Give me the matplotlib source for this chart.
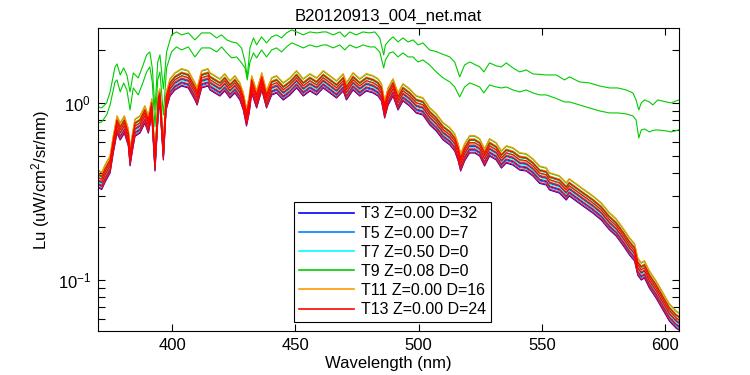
import numpy as np
import matplotlib
matplotlib.use("Agg")
import matplotlib.pyplot as plt
from matplotlib.ticker import LogLocator, NullFormatter, FixedLocator

plt.rcParams['font.family'] = ['Liberation Sans', 'DejaVu Sans']
plt.rcParams['mathtext.fontset'] = 'custom'
plt.rcParams['mathtext.rm'] = 'Liberation Sans'
plt.rcParams['mathtext.default'] = 'regular'

# lower bundle (median cast)
wl_base = [370.0, 371.5, 373.0, 374.9, 376.2, 377.7, 379.0, 380.7, 382.3, 383.0,
           384.0, 385.0, 387.0, 389.0, 390.4, 391.8, 393.1, 394.5, 395.1, 396.5,
           397.6, 399.2, 401.2, 403.9, 406.6, 409.3, 410.2, 412.0, 414.6, 415.4,
           419.4, 421.4, 423.5, 425.5, 427.5, 428.9, 430.2, 431.3, 432.3, 434.3,
           436.4, 438.3, 440.4, 442.4, 445.1, 447.8, 450.5, 453.2, 455.9, 458.6,
           461.3, 464.0, 466.7, 469.4, 470.7, 473.4, 476.1, 478.8, 481.5, 483.5,
           484.9, 486.2, 487.6, 489.6, 491.6, 493.6, 496.3, 499.0, 501.7, 504.5,
           507.1, 509.9, 512.6, 514.6, 516.0, 517.0, 518.6, 520.6, 522.7, 524.7,
           526.7, 528.7, 531.4, 533.5, 535.5, 538.2, 540.9, 543.6, 546.3, 549.0,
           551.7, 553.0, 557.0, 559.8, 561.0, 563.8, 566.5, 570.6, 574.0, 577.3,
           580.0, 582.7, 585.4, 587.5, 588.8, 590.2, 591.5, 593.5, 596.2, 599.0,
           601.6, 604.3, 605.5]
lu_base = [0.37, 0.36, 0.40, 0.446, 0.58, 0.75, 0.686, 0.75, 0.634, 0.49,
           0.60, 0.72, 0.75, 0.855, 0.75, 0.937, 0.458, 1.013, 1.067, 0.529,
           1.013, 1.215, 1.314, 1.384, 1.349, 1.154, 1.081, 1.349, 1.384, 1.314,
           1.215, 1.297, 1.184, 1.264, 1.154, 1.013, 0.823, 0.974, 1.264, 1.040,
           1.314, 1.040, 1.231, 1.264, 1.154, 1.231, 1.349, 1.215, 1.297, 1.231,
           1.349, 1.264, 1.184, 1.297, 1.154, 1.314, 1.215, 1.297, 1.264, 1.215,
           1.139, 0.913, 1.081, 1.215, 1.013, 1.139, 1.067, 0.974, 0.949, 0.834,
           0.771, 0.686, 0.643, 0.594, 0.522, 0.458, 0.522, 0.579, 0.579, 0.557,
           0.489, 0.557, 0.529, 0.476, 0.508, 0.495, 0.464, 0.458, 0.429, 0.39,
           0.382, 0.358, 0.344, 0.314, 0.331, 0.310, 0.291, 0.265, 0.242, 0.213,
           0.197, 0.175, 0.154, 0.142, 0.118, 0.111, 0.114, 0.100, 0.0878, 0.0751,
           0.0651, 0.0594, 0.0579]

# the two high green (T9) casts
wl_g = [370.0, 371.5, 373.5, 374.9, 376.9, 377.7, 379.0, 380.4, 381.7, 383.0,
        384.3, 386.3, 388.3, 389.7, 391.0, 392.0, 393.1, 394.2, 395.1, 396.5,
        397.8, 399.8, 401.8, 403.9, 406.6, 409.3, 412.0, 415.4, 418.1, 420.1,
        422.2, 424.2, 426.2, 428.2, 429.6, 430.5, 431.6, 433.0, 434.3, 436.3,
        438.3, 440.4, 442.4, 444.4, 446.4, 448.5, 450.5, 453.2, 455.9, 458.6,
        461.3, 462.6, 465.3, 468.0, 470.0, 472.0, 474.7, 477.4, 480.1, 482.2,
        484.2, 485.8, 486.5, 488.2, 489.6, 491.6, 493.6, 495.7, 497.7, 499.7,
        501.7, 504.4, 507.1, 509.9, 512.6, 514.6, 516.6, 518.6, 520.7, 522.7,
        524.7, 526.4, 528.7, 531.4, 533.5, 535.5, 538.2, 540.9, 543.6, 546.3,
        549.0, 551.7, 555.7, 559.1, 561.1, 565.2, 569.2, 573.3, 577.3, 580.7,
        584.1, 586.8, 588.1, 589.2, 590.2, 591.5, 593.5, 594.9, 596.9, 600.3,
        602.3, 605.4]
lu_g1 = [0.95, 0.937, 1.00, 1.154, 1.597, 1.661, 1.439, 1.577, 1.439, 1.154,
         1.477, 1.384, 1.639, 1.867, 1.942, 1.577, 0.913, 1.70, 1.867, 1.20,
         1.942, 2.423, 2.518, 2.423, 2.486, 2.270, 2.486, 2.486, 2.329, 2.423,
         2.270, 2.211, 2.183, 2.045, 1.704, 1.403, 2.045, 2.329, 2.127, 2.360,
         2.183, 2.360, 2.423, 2.329, 2.486, 2.585, 2.518, 2.423, 2.518, 2.486,
         2.518, 2.518, 2.423, 2.518, 2.360, 2.518, 2.423, 2.518, 2.486, 2.518,
         2.329, 1.867, 2.127, 2.270, 2.360, 2.211, 2.329, 2.211, 2.270, 2.127,
         2.183, 1.993, 1.95, 1.88, 1.819, 1.70, 1.403, 1.639, 1.704, 1.65,
         1.60, 1.497, 1.683, 1.62, 1.597, 1.683, 1.577, 1.497, 1.536, 1.458,
         1.45, 1.439, 1.439, 1.349, 1.403, 1.314, 1.297, 1.247, 1.215, 1.215,
         1.184, 1.139, 1.040, 0.913, 1.00, 1.040, 1.013, 0.974, 1.040, 1.013,
         1.000, 1.040]
lu_g2 = [0.77, 0.781, 0.855, 0.974, 1.314, 1.349, 1.154, 1.297, 1.184, 0.913,
         1.215, 1.110, 1.314, 1.497, 1.597, 1.314, 0.732, 1.35, 1.497, 0.855,
         1.577, 1.942, 2.072, 1.993, 2.072, 1.819, 2.045, 2.045, 1.942, 2.072,
         1.917, 1.796, 1.819, 1.683, 1.577, 1.349, 1.704, 1.917, 1.796, 1.993,
         1.819, 1.993, 2.045, 1.942, 2.072, 2.183, 2.127, 2.045, 2.127, 2.072,
         2.127, 2.127, 2.045, 2.127, 1.993, 2.127, 2.045, 2.127, 2.072, 2.072,
         1.942, 1.577, 1.750, 1.917, 1.942, 1.819, 1.917, 1.819, 1.819, 1.704,
         1.750, 1.639, 1.497, 1.384, 1.314, 1.231, 1.081, 1.231, 1.297, 1.264,
         1.231, 1.139, 1.264, 1.231, 1.215, 1.231, 1.184, 1.154, 1.184, 1.139,
         1.110, 1.110, 1.060, 1.013, 1.013, 0.974, 0.937, 0.901, 0.878, 0.878,
         0.867, 0.845, 0.802, 0.634, 0.704, 0.713, 0.686, 0.70, 0.704, 0.695,
         0.686, 0.704]

# casts per station, as ratio to the median cast
labels = ['T3 Z=0.00 D=32', 'T5 Z=0.00 D=7', 'T7 Z=0.50 D=0',
          'T9 Z=0.08 D=0', 'T11 Z=0.00 D=16', 'T13 Z=0.00 D=24']
colors = ['#0000ff', '#0080ff', '#00ffff', '#00cc00', '#ff9900', '#ff0000']
cast_ratios = [[0.90, 0.94, 0.98],
               [0.93, 1.00, 1.06],
               [0.97, 1.03, 1.08],
               [1.06, 1.12],
               [1.02, 1.08, 1.13],
               [0.91, 0.95, 0.99, 1.03, 1.07]]

fig = plt.figure(figsize=(7.5, 3.75), dpi=100)
ax = fig.add_axes([98/750, 44/375, 581/750, 303/375])

wl_base = np.array(wl_base)
lu_base = np.array(lu_base)
handles = []
for i in range(len(labels)):
    first = None
    if labels[i].startswith('T9'):
        first, = ax.plot(wl_g, lu_g1, color=colors[i], lw=0.8)
        ax.plot(wl_g, lu_g2, color=colors[i], lw=0.8)
    for r in cast_ratios[i]:
        ln, = ax.plot(wl_base, lu_base * r, color=colors[i], lw=0.8)
        if first is None:
            first = ln
    handles.append(first)

ax.set_yscale('log')
ax.set_xlim(370, 605.5)
ax.set_ylim(0.0515, 2.65)
ax.xaxis.set_major_locator(FixedLocator([400, 450, 500, 550, 600]))
ax.yaxis.set_major_locator(LogLocator(base=10, numticks=10))
ax.yaxis.set_minor_locator(LogLocator(base=10, subs=np.arange(2, 10), numticks=10))
ax.yaxis.set_minor_formatter(NullFormatter())
ax.tick_params(which='both', direction='in', top=True, right=True, labelsize=12)
ax.tick_params(which='major', length=5, width=0.8, pad=5)
ax.tick_params(which='minor', length=5, width=0.8)
for s in ax.spines.values():
    s.set_linewidth(0.8)

ax.set_title('B20120913_004_net.mat', fontsize=12, pad=5)
ax.set_xlabel('Wavelength (nm)', fontsize=12, labelpad=2)
ax.set_ylabel('Lu (uW/cm$^2$/sr/nm)', fontsize=12)

leg = ax.legend(handles, labels, loc='lower left', bbox_to_anchor=(0.337, 0.03),
                borderaxespad=0, fontsize=11.5, handlelength=3.5, handletextpad=0.4,
                labelspacing=0.26, borderpad=0.3, fancybox=False, framealpha=1)
leg.get_frame().set_edgecolor('black')
leg.get_frame().set_linewidth(0.8)
for h in leg.get_lines():
    h.set_linewidth(1.2)

plt.savefig('out.png', dpi=100)
